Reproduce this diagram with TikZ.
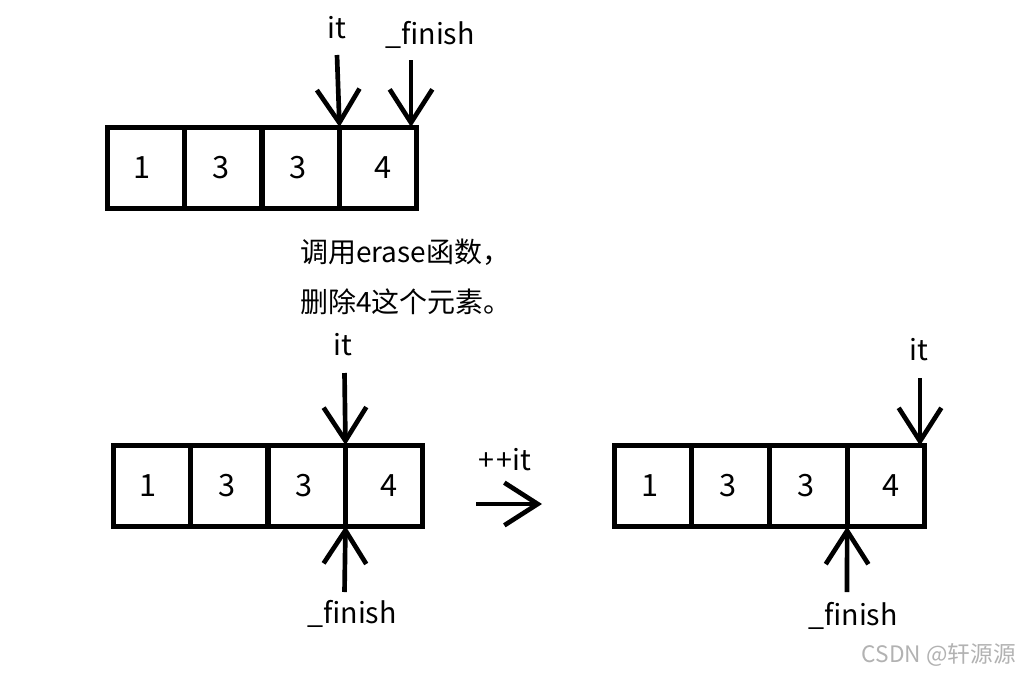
\documentclass[tikz,border=0pt]{standalone}
\usepackage{fontspec}
\setmainfont{Noto Sans CJK SC}
\usetikzlibrary{arrows.meta}
\begin{document}
\begin{tikzpicture}[x=0.75pt,y=-0.75pt,
  cell/.style={draw,line width=3.75pt,minimum width=58.1pt,minimum height=60.75pt,inner sep=0pt,outer sep=0pt,font=\fontsize{23}{26}\selectfont},
  lbl/.style={font=\fontsize{21.5}{24}\selectfont,inner sep=0pt},
  ptr/.style={line width=3.5pt,-{Straight Barb[length=25pt,width=32pt,line width=3.5pt]}},
  note/.style={font=\fontsize{21}{24}\selectfont,inner sep=0pt,anchor=west}]
\useasboundingbox (0,0) rectangle (1020,672);
% top array
\node[cell] (a1) at (145.75,167.5) {\hspace*{-5pt}1};
\node[cell] (a2) at (223.25,167.5) {\hspace*{-4pt}3};
\node[cell] (a3) at (300.75,167.5) {\hspace*{-4pt}3};
\node[cell] (a4) at (378.25,167.5) {\hspace*{7pt}4};
\node[lbl] (ait) at (337,28) {it};
\node[lbl] (afin) at (430,35) {\_finish};
\coordinate (aits) at (337,55);
\coordinate (afins) at (411,60);
\draw[ptr] (aits) -- (a3.north east);
\draw[ptr] (afins) -- (a4.north east -| afins);
% note
\node[note] (n1) at (300,252) {调用erase函数，};
\node[note] (n2) at (300,302) {删除4这个元素。};
% middle array
\node[cell] (b1) at (151.75,485.5) {\hspace*{-5pt}1};
\node[cell] (b2) at (229.25,485.5) {\hspace*{-4pt}3};
\node[cell] (b3) at (306.75,485.5) {\hspace*{-4pt}3};
\node[cell] (b4) at (384.25,485.5) {\hspace*{7pt}4};
\node[lbl] (bit) at (343,345) {it};
\node[lbl] (bfin) at (352,614) {\_finish};
\coordinate (bits) at (344.5,373);
\coordinate (bfins) at (344.5,592);
\draw[ptr] (bits) -- (b3.north east);
\draw[ptr] (bfins) -- (b3.south east);
% ++it arrow
\node[lbl] (inc) at (505,460) {+\kern2pt+it};
\coordinate (incs) at (476,504);
\coordinate (ince) at (542,504);
\draw[ptr] (incs) -- (ince);
% right array
\node[cell] (c1) at (652.9,486) {\hspace*{-5pt}1};
\node[cell] (c2) at (730.6,486) {\hspace*{-4pt}3};
\node[cell] (c3) at (808.4,486) {\hspace*{-4pt}3};
\node[cell] (c4) at (886.1,486) {\hspace*{7pt}4};
\node[lbl] (cit) at (919,350) {it};
\node[lbl] (cfin) at (853,616) {\_finish};
\coordinate (cits) at (920,378);
\coordinate (cfins) at (847,592);
\draw[ptr] (cits) -- (c4.north east -| cits);
\draw[ptr] (cfins) -- (c3.south east);
% watermark
\node[font=\fontsize{17}{20}\selectfont,text=black!30,anchor=east,inner sep=0pt] (wm) at (1016,655) {CSDN @轩源源};
\end{tikzpicture}
\end{document}
